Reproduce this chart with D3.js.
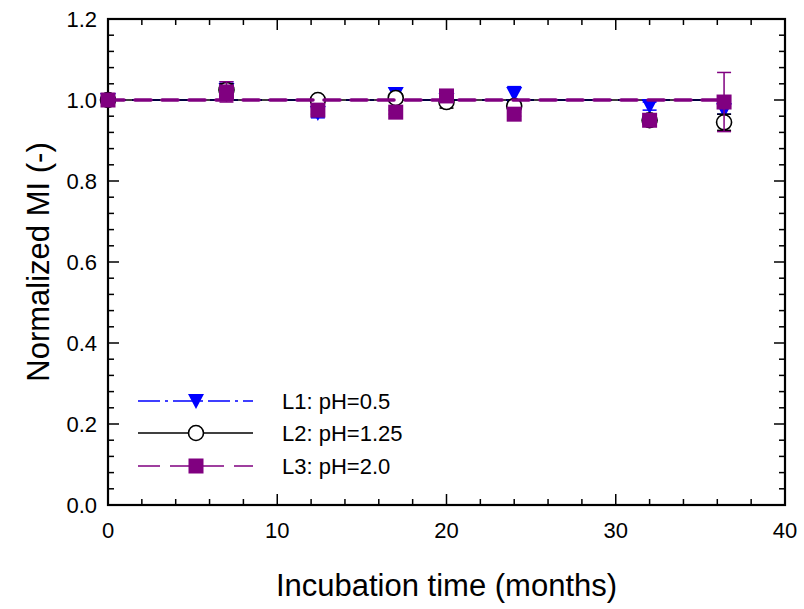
<!DOCTYPE html>
<html>
<head>
<meta charset="utf-8">
<script src="https://cdn.jsdelivr.net/npm/d3@7"></script>
<style>
  body { margin: 0; background: #fff; }
  text { font-family: "Liberation Sans", Arial, sans-serif; }
</style>
</head>
<body>
<div id="chart"></div>
<script>
var width = 804;
var height = 609;

// data
var months = [0, 7, 12.4, 17, 20, 24, 32, 36.4];
var l1 = [1.0, 1.025, 0.968, 1.015, 1.0, 1.015, 0.985, 0.975];
var l1Err = [0, 0.02, 0.012, 0.015, 0.01, 0.018, 0.01, 0.01];
var l2 = [1.0, 1.025, 1.0, 1.005, 0.995, 0.985, 0.95, 0.945];
var l2Err = [0, 0.015, 0.005, 0.01, 0.015, 0.01, 0.01, 0.02];
var l3 = [1.0, 1.02, 0.975, 0.97, 1.01, 0.965, 0.95, 0.995];
var l3Err = [0, 0.025, 0.01, 0.005, 0.008, 0.005, 0.005, 0.073];
var fitLevel = 1.0;
var xTicks = [0, 10, 20, 30, 40];
var yTicks = [0.0, 0.2, 0.4, 0.6, 0.8, 1.0, 1.2];
var legendLabels = ["L1: pH=0.5", "L2: pH=1.25", "L3: pH=2.0"];

var mLeft = 108, mRight = 785, mTop = 19, mBottom = 505;

var svg = d3.select("#chart").append("svg")
    .attr("width", width)
    .attr("height", height);

var x = d3.scaleLinear().domain([0, 40]).range([mLeft, mRight]);
var y = d3.scaleLinear().domain([0, 1.2]).range([mBottom, mTop]);

// ticks (inward on all sides)
function tickAxes(){
    var g = svg.append("g").attr("stroke", "#000").attr("stroke-width", 1.5);
    var xMinor = d3.range(0, 40.01, 2);
    xMinor.forEach(function(v){
        var len = (v % 10 === 0) ? 11 : 6;
        g.append("line").attr("x1", x(v)).attr("x2", x(v)).attr("y1", mBottom).attr("y2", mBottom - len);
        g.append("line").attr("x1", x(v)).attr("x2", x(v)).attr("y1", mTop).attr("y2", mTop + len);
    });
    var yMinor = d3.range(0, 1.2001, 0.04);
    yMinor.forEach(function(v, i){
        var len = (i % 5 === 0) ? 11 : 6;
        g.append("line").attr("y1", y(v)).attr("y2", y(v)).attr("x1", mLeft).attr("x2", mLeft + len);
        g.append("line").attr("y1", y(v)).attr("y2", y(v)).attr("x1", mRight).attr("x2", mRight - len);
    });
}
tickAxes();

svg.append("rect")
    .attr("x", mLeft).attr("y", mTop)
    .attr("width", mRight - mLeft).attr("height", mBottom - mTop)
    .attr("fill", "none").attr("stroke", "#000").attr("stroke-width", 2.2);

svg.selectAll(".xlab").data(xTicks).enter().append("text")
    .attr("x", function(d){ return x(d); })
    .attr("y", 538)
    .attr("text-anchor", "middle")
    .attr("font-size", 22)
    .text(function(d){ return d; });

svg.selectAll(".ylab").data(yTicks).enter().append("text")
    .attr("x", 97)
    .attr("y", function(d){ return y(d) + 8; })
    .attr("text-anchor", "end")
    .attr("font-size", 22)
    .text(function(d){ return d.toFixed(1); });

svg.append("text")
    .attr("x", (mLeft + mRight) / 2).attr("y", 596)
    .attr("text-anchor", "middle")
    .attr("font-size", 31)
    .text("Incubation time (months)");

svg.append("text")
    .attr("transform", "translate(49," + ((mTop + mBottom) / 2) + ") rotate(-90)")
    .attr("text-anchor", "middle")
    .attr("font-size", 31)
    .text("Normalized MI (-)");

var series = [
    {vals: l1, err: l1Err, color: "#0000ff", marker: "tri", dash: "22,5,3,5", width: 1.3},
    {vals: l2, err: l2Err, color: "#000000", marker: "circle", dash: null, width: 1.3},
    {vals: l3, err: l3Err, color: "#800080", marker: "square", dash: "22,10", width: 1.5}
];

function drawMarker(g, s, cx, cy){
    if(s.marker === "tri"){
        g.append("path")
            .attr("d", "M" + (cx - 8) + "," + (cy - 7) + "L" + (cx + 8) + "," + (cy - 7) + "L" + cx + "," + (cy + 8) + "Z")
            .attr("fill", s.color);
    } else if(s.marker === "circle"){
        g.append("circle").attr("cx", cx).attr("cy", cy).attr("r", 7.5)
            .attr("fill", "#fff").attr("stroke", "#000").attr("stroke-width", 1.6);
    } else {
        g.append("rect").attr("x", cx - 7.5).attr("y", cy - 7.5).attr("width", 15).attr("height", 15)
            .attr("fill", s.color);
    }
}

// fit lines at 1.0 (blue and black hidden under the purple one)
var fitG = svg.append("g");
fitG.append("line")
    .attr("x1", x(months[0])).attr("x2", x(months[months.length - 1]))
    .attr("y1", y(fitLevel)).attr("y2", y(fitLevel))
    .attr("stroke", "#0000ff").attr("stroke-width", 2).attr("stroke-dasharray", "18,6,4,6");
fitG.append("line")
    .attr("x1", x(months[0])).attr("x2", x(months[months.length - 1]))
    .attr("y1", y(fitLevel)).attr("y2", y(fitLevel))
    .attr("stroke", "#000").attr("stroke-width", 1.5);

series.forEach(function(s){
    var g = svg.append("g");
    s.vals.forEach(function(v, i){
        var cx = x(months[i]);
        var e = s.err[i];
        if(e > 0){
            g.append("line").attr("x1", cx).attr("x2", cx)
                .attr("y1", y(v - e)).attr("y2", y(v + e))
                .attr("stroke", s.color).attr("stroke-width", 1.5);
            [v - e, v + e].forEach(function(t){
                g.append("line").attr("x1", cx - 7).attr("x2", cx + 7)
                    .attr("y1", y(t)).attr("y2", y(t))
                    .attr("stroke", s.color).attr("stroke-width", 1.5);
            });
        }
        drawMarker(g, s, cx, y(v));
    });
    if(s.marker === "square"){
        svg.append("line")
            .attr("x1", x(months[0])).attr("x2", x(months[months.length - 1]))
            .attr("y1", y(fitLevel)).attr("y2", y(fitLevel))
            .attr("stroke", s.color).attr("stroke-width", 3.5)
            .attr("stroke-linecap", "round")
            .attr("stroke-dasharray", "16,11");
    }
});

// legend
var legY = [401, 433, 466];
series.forEach(function(s, i){
    var g = svg.append("g");
    var ln = g.append("line")
        .attr("x1", 138).attr("x2", 253)
        .attr("y1", legY[i]).attr("y2", legY[i])
        .attr("stroke", s.color).attr("stroke-width", s.width);
    if(s.dash) ln.attr("stroke-dasharray", s.dash);
    drawMarker(g, s, 196, legY[i]);
    g.append("text")
        .attr("x", 282).attr("y", legY[i] + 8)
        .attr("font-size", 22)
        .text(legendLabels[i]);
});
</script>
</body>
</html>
